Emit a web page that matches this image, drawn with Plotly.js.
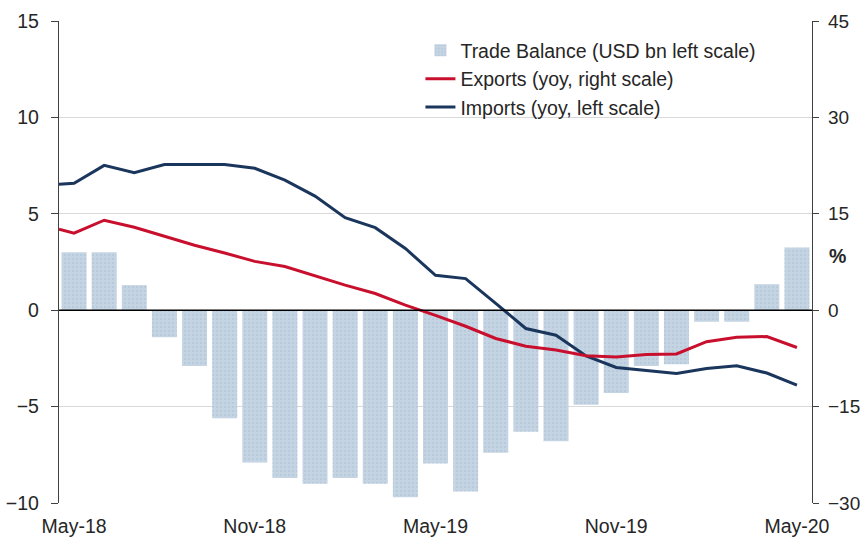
<!DOCTYPE html>
<html>
<head>
<meta charset="utf-8">
<script src="https://cdn.plot.ly/plotly-3.0.1.min.js"></script>
<style>
  html, body { margin: 0; padding: 0; background: #ffffff; }
  #chart { width: 863px; height: 539px; }
</style>
</head>
<body>
<div id="chart"></div>
<script>
// Months (May-18 .. May-20)
const months = ["May-18","Jun-18","Jul-18","Aug-18","Sep-18","Oct-18","Nov-18","Dec-18",
                "Jan-19","Feb-19","Mar-19","Apr-19","May-19","Jun-19","Jul-19","Aug-19",
                "Sep-19","Oct-19","Nov-19","Dec-19","Jan-20","Feb-20","Mar-20","Apr-20","May-20"];
const tickLabels = ["May-18","Nov-18","May-19","Nov-19","May-20"];

// Trade balance, USD bn (left scale)
const tradeBalance = [3.0, 3.0, 1.3, -1.4, -2.9, -5.6, -7.9, -8.7, -9.0, -8.7, -9.0, -9.7,
                      -7.95, -9.4, -7.4, -6.3, -6.8, -4.9, -4.3, -2.9, -2.8, -0.6, -0.6, 1.35, 3.25];

// Exports yoy % (right scale); first value is the line's start at the left edge
const exportsStart = 12.6;
const exportsYoy = [12.0, 14.0, 12.9, 11.5, 10.1, 8.9, 7.6, 6.8, 5.3, 3.9, 2.6, 0.8,
                    -0.8, -2.5, -4.4, -5.6, -6.2, -7.1, -7.3, -6.9, -6.8, -4.9, -4.2, -4.1, -5.8];

// Imports yoy (left scale); first value is the line's start at the left edge
const importsStart = 6.53;
const importsYoy = [6.58, 7.51, 7.13, 7.56, 7.56, 7.56, 7.36, 6.75, 5.92, 4.8, 4.28, 3.2,
                    1.81, 1.64, 0.35, -0.95, -1.3, -2.37, -2.97, -3.14, -3.28, -3.02, -2.88, -3.26, -3.89];

const idx = months.map((m, i) => i);
const lineX = [-0.5].concat(idx);
const tickVals = tickLabels.map(t => months.indexOf(t));

const font = "Liberation Sans, Arial, sans-serif";
const textColor = "#262626";
const fs = 19.5;

const traces = [
  {
    type: "bar",
    name: "Trade Balance (USD bn left scale)",
    x: idx, y: tradeBalance,
    width: 0.83,
    marker: {
      color: "#c3d3e2",
      line: { width: 0 },
      pattern: { shape: ".", fgcolor: "#a6bdd5", bgcolor: "#c5d4e2", size: 4, solidity: 0.12 }
    },
    hoverinfo: "x+y"
  },
  {
    type: "scatter", mode: "lines",
    name: "Exports (yoy, right scale)",
    x: lineX, y: [exportsStart].concat(exportsYoy),
    yaxis: "y2",
    line: { color: "#c8102e", width: 3 }
  },
  {
    type: "scatter", mode: "lines",
    name: "Imports (yoy, left scale)",
    x: lineX, y: [importsStart].concat(importsYoy),
    line: { color: "#1b365d", width: 3 }
  }
];

const layout = {
  width: 863, height: 539,
  margin: { l: 59, r: 51, t: 21, b: 36, pad: 0 },
  paper_bgcolor: "#ffffff",
  plot_bgcolor: "#ffffff",
  font: { family: font, size: fs, color: textColor },
  showlegend: true,
  legend: {
    x: 0.48, y: 0.979, xanchor: "left", yanchor: "top",
    bgcolor: "rgba(0,0,0,0)",
    font: { family: font, size: fs, color: textColor },
    traceorder: "normal",
    itemclick: false
  },
  bargap: 0.17,
  xaxis: {
    range: [-0.5, 24.5],
    tickvals: tickVals,
    ticktext: tickLabels,
    ticks: "",
    showgrid: false,
    zeroline: false,
    showline: false,
    ticklabelstandoff: 9,
    tickfont: { family: font, size: fs, color: textColor },
    automargin: false
  },
  yaxis: {
    range: [-10, 15],
    dtick: 5,
    tick0: 0,
    showgrid: true,
    gridcolor: "#d9d9d9",
    gridwidth: 1.2,
    zeroline: false,
    showline: true,
    linecolor: "#404040",
    linewidth: 1.2,
    ticks: "outside",
    ticklen: 7,
    tickcolor: "#404040",
    ticklabelstandoff: 8,
    tickfont: { family: font, size: fs, color: textColor },
    automargin: false
  },
  yaxis2: {
    range: [-30, 45],
    dtick: 15,
    tick0: 0,
    overlaying: "y",
    side: "right",
    showgrid: false,
    zeroline: false,
    showline: true,
    linecolor: "#404040",
    linewidth: 1.2,
    ticks: "outside",
    ticklen: 6,
    tickcolor: "#404040",
    ticklabelstandoff: 5,
    tickfont: { family: font, size: 19, color: textColor },
    automargin: false
  },
  shapes: [
    {
      type: "line", layer: "above",
      xref: "paper", x0: 0, x1: 1,
      yref: "y", y0: 0, y1: 0,
      line: { color: "#000000", width: 1.5 }
    }
  ],
  annotations: [
    {
      text: "<b>%</b>", xref: "paper", x: 1, xanchor: "left", xshift: 15,
      yref: "y", y: 2.8, yanchor: "middle",
      showarrow: false,
      font: { family: font, size: fs, color: textColor }
    }
  ]
};

Plotly.newPlot("chart", traces, layout, { displayModeBar: false, staticPlot: true });
</script>
</body>
</html>
